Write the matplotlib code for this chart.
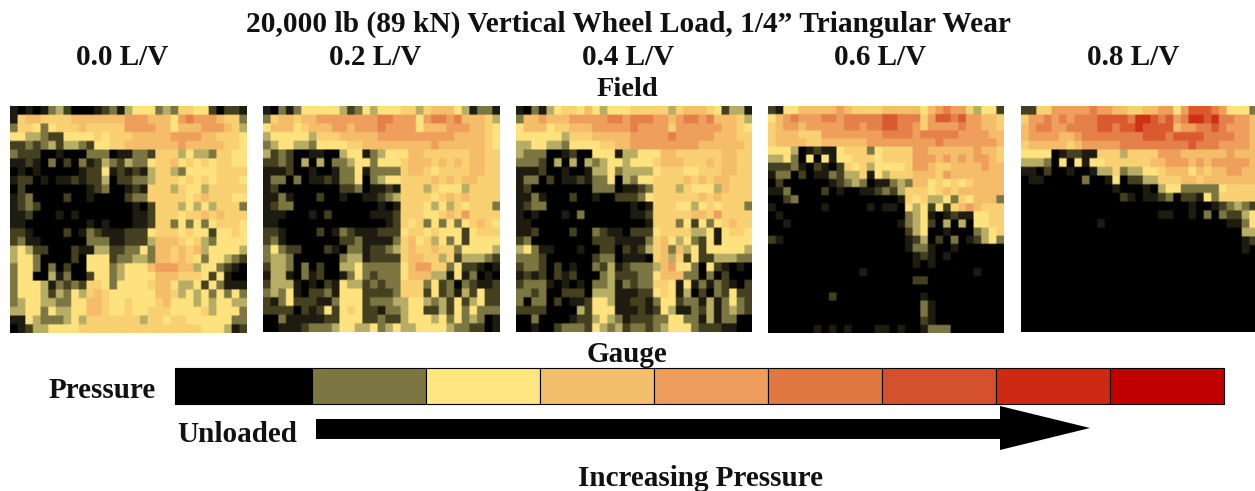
import numpy as np
import matplotlib
matplotlib.use("Agg")
import matplotlib.pyplot as plt
from matplotlib.colors import ListedColormap

TITLE = "20,000 lb (89 kN) Vertical Wheel Load, 1/4\u201d Triangular Wear"
LOAD_RATIOS = ["0.0 L/V", "0.2 L/V", "0.4 L/V", "0.6 L/V", "0.8 L/V"]

LEVEL_COLORS = ["#000000", "#1e1c10", "#45401f", "#7b7642", "#b7ad65", "#fee27e",
                "#f9d072", "#f5bd69", "#ee9f5c", "#e5804a", "#da5a30", "#cf3015"]
SCALE_COLORS = ["#000000", "#7b7642", "#ffe680", "#f4bf6d", "#ed9c5c",
                "#e07842", "#d5502c", "#cc2a12", "#c00000"]
SCALE_EDGES = [175, 312, 426, 540, 654, 768, 882, 996, 1110, 1224]

P00 = """
10101 34200 01231 45553 43665 52022 1
16776 66677 77777 88877 75898 88766 3
36653 56667 66666 88887 75777 88876 4
55443 22555 56566 67777 78888 77666 5
22323 42443 25566 77777 77877 77766 5
32220 01000 33301 13326 66454 43665 5
11210 30203 12432 43356 67565 65665 5
01010 00001 22512 12146 64355 55666 6
12201 01121 22402 23346 66565 65666 5
02000 00000 12300 12166 64655 46666 6
12300 00200 10000 23366 66656 76665 5
12320 00000 00000 01026 66454 54666 3
11200 01010 00000 01126 66566 76766 6
11000 00000 10100 01126 63535 35666 5
22100 00201 32111 22256 66565 52556 5
23110 00000 33311 22247 77656 43555 5
45422 00021 14422 33537 76767 45555 4
45530 00020 55523 34437 76765 35543 2
35530 30200 55534 55578 88774 55321 0
35500 41300 25534 55557 77666 52510 0
35554 13232 66535 55567 75445 25311 1
35554 24354 67655 55557 76454 53535 3
34554 43355 77655 65556 75554 54554 4
44553 54455 77655 65566 65555 64555 3
11543 33454 66666 66466 56655 55553 3
01244 55556 66666 66666 66666 55541 2
"""

P02 = """
10313 55555 42354 55566 46777 54133 1
36776 77888 88888 99888 58998 97776 4
57775 67778 87888 98888 57778 88776 5
45555 54666 77777 88888 88888 77776 5
34554 43555 56677 77777 77877 77776 5
42320 01100 45513 45557 76666 66776 6
22320 40403 34553 55567 77676 76776 6
11120 01001 33513 33367 76566 66776 6
13303 01121 33503 45566 66767 67766 6
12000 00000 22301 12166 64655 54666 6
11310 00200 10011 23466 66567 67666 6
12330 00000 00000 10166 65454 65666 3
11100 01020 00001 11266 65567 68666 6
11000 00000 00000 01265 63535 35676 5
22100 00201 32111 22256 65655 52566 6
23100 00000 22311 11367 56453 52555 5
35322 00021 03312 23467 66766 35555 4
34430 00000 34412 22267 76646 24443 2
24430 30200 44533 33357 88663 52210 1
14410 31200 13532 33357 77441 51301 0
24441 01021 54423 23366 63523 03211 2
34351 02231 55522 22366 62523 14252 2
21352 22113 55523 33445 54342 52452 2
22220 21252 56522 13345 52242 53533 3
00311 11122 55522 32245 55453 53430 1
00111 23334 55445 34544 55554 33220 1
"""

P04 = """
10314 56657 54555 66666 46777 65244 1
37787 77888 88998 99988 78998 97776 4
57775 66777 88888 98888 68888 88776 5
55555 54666 77777 88888 98888 87776 6
44554 43555 56677 88888 88887 77777 6
43330 01200 55514 45557 76666 66776 6
33320 40404 34554 55567 77666 76776 6
11120 01001 44534 44456 66556 66776 6
13302 01121 33504 35566 66767 67766 6
12000 00000 33301 12366 64655 54766 6
11310 00200 10022 23566 66667 67666 6
12330 00000 00000 10166 65545 65666 3
10100 01030 00000 11266 66677 68666 6
11000 00000 00000 00166 63525 35676 6
11200 00200 32110 22256 66644 51566 5
23000 00000 22211 11367 54532 51555 5
45311 00010 02202 12467 37452 55555 4
33320 00000 23301 11067 46252 24443 3
23320 20100 32412 33347 85530 52101 0
12120 21200 03422 23357 77330 30200 0
23331 01010 33413 23366 51513 13210 2
33230 02220 44411 12256 51402 03252 2
30330 20112 55411 22135 52331 41353 2
22220 00042 55511 12125 41132 41343 2
00300 00122 45431 22233 55331 41330 0
00100 23332 54342 33234 55532 22110 0
"""

P06 = """
21557 77778 76666 77777 57898 86455 2
57898 88998 99999 aa999 68aa9 a8877 6
67887 88888 99899 aa998 68888 98877 6
67776 66888 88888 99998 99999 88887 7
67777 66777 77788 88888 88988 88888 7
55540 12115 66635 66668 87777 77877 6
44530 50515 56665 66668 88787 87887 6
22231 02102 65645 55568 87667 77787 7
13302 01132 44615 46667 77687 77777 7
02000 00012 34301 13437 75656 56777 7
11300 00201 00112 32466 65676 77777 7
00230 00000 00000 00165 64453 65777 3
10000 00100 00010 11054 52526 78766 6
01000 00000 00000 00034 51012 11556 6
00100 00000 00000 00134 52040 40556 6
00000 00000 00000 00024 50010 00345 6
21000 00000 00000 00012 40203 01245 3
00000 00000 00000 00013 31001 00000 0
00000 00000 00000 00001 21010 00000 0
00000 00000 00000 00001 01000 00000 0
00000 00000 00100 00000 00000 00100 0
00000 00000 00000 00002 20000 00000 0
00000 00000 00000 00000 00000 00000 0
00000 00020 00000 00000 10000 00000 0
00000 00000 00000 00000 31000 00000 0
00000 00000 00000 00000 31000 00000 0
00000 00000 00000 00000 21000 00000 0
00000 01010 10001 10100 13330 00000 0
"""

P08 = """
22668 88889 88776 67788 58aaa 98555 3
68898 98999 aaaa9 bba9a 89bba b9988 7
78998 89999 aa9aa baaaa 78899 a9888 7
78888 77899 99999 9aaa9 aaaa9 99988 7
67777 76788 88899 99999 99a99 98888 7
55550 12211 66646 66688 87777 77877 7
44430 50515 56666 66778 88787 88888 7
11020 01001 44634 45567 77576 77887 7
01100 00030 01502 24466 67767 77777 7
00000 00000 00100 01045 53333 35666 6
00000 00000 00021 01123 02215 36666 6
00000 00000 00000 00000 00100 12343 2
00000 00000 00000 00011 00103 03224 5
00000 00000 10000 00000 00000 00113 5
00000 00000 00000 00000 00000 00004 4
00000 00000 00000 00000 00000 00001 2
00000 00000 00000 00000 00000 00001 0
00000 00000 00000 00000 00000 00000 0
00000 00000 00000 00000 00000 00000 0
00000 00000 00000 00000 00000 00000 0
00000 00000 00000 00000 00000 00000 0
00000 00000 00000 00000 00000 00000 0
00000 00000 00000 00000 00000 00000 0
00000 00000 00000 00000 00000 00000 0
00000 00000 00000 00000 00000 00000 0
00000 00000 00000 00000 00000 00000 0
"""

PANELS = [P00, P02, P04, P06, P08]
W, H = 1255, 491


def parse(txt):
    rows = [r.replace(" ", "") for r in txt.strip().splitlines()]
    return np.array([[int(c, 16) for c in r] for r in rows])


def px_axes(fig, x0, y0, x1, y1):
    return fig.add_axes([x0 / W, 1 - y1 / H, (x1 - x0) / W, (y1 - y0) / H])


fig = plt.figure(figsize=(W / 100, H / 100), dpi=100, facecolor="white")
cmap = ListedColormap(LEVEL_COLORS)
boxes = [(10, 106, 247, 333), (263, 106, 500, 332), (516, 106, 752, 332),
         (768, 106, 1004, 333), (1021, 106, 1257, 332)]
for txt, b in zip(PANELS, boxes):
    ax = px_axes(fig, *b)
    # soft cell edges, as in the scanned reference
    rgb = cmap(parse(txt))[:, :, :3]
    rgb = np.repeat(np.repeat(rgb, 5, axis=0), 5, axis=1)
    ax.imshow(rgb, aspect="auto", interpolation="bilinear")
    ax.axis("off")

ov = fig.add_axes([0, 0, 1, 1], facecolor="none")
ov.set_xlim(0, W)
ov.set_ylim(H, 0)
ov.axis("off")

for i, c in enumerate(SCALE_COLORS):
    ov.fill_between([SCALE_EDGES[i], SCALE_EDGES[i + 1]], 368, 404, facecolor=c,
                    edgecolor="black", linewidth=0.8)

ov.fill([316, 1000, 1000, 1090, 1000, 1000, 316], [419, 419, 406, 428, 450, 439, 439],
        facecolor="black", edgecolor="none")

font = dict(family="Liberation Serif", fontweight="bold", color="#111111",
            ha="center", va="center", fontsize=21)
ov.text(628, 24, TITLE, **{**font, "fontsize": 21.2})
for x, s in zip([122, 375, 628, 880, 1133], LOAD_RATIOS):
    ov.text(x, 57, s, **font)
ov.text(627, 89, "Field", **{**font, "fontsize": 20.5})
ov.text(627, 355, "Gauge", **font)
ov.text(102, 390, "Pressure", **font)
ov.text(237, 434, "Unloaded", **font)
ov.text(700, 479, "Increasing Pressure", **font)

fig.savefig("out.png", dpi=100)
